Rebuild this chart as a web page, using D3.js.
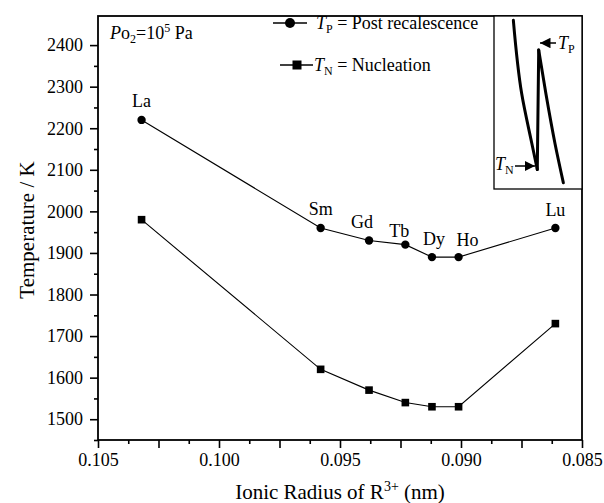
<!DOCTYPE html>
<html><head><meta charset="utf-8">
<script src="https://cdn.jsdelivr.net/npm/d3@7"></script>
<style>
html,body{margin:0;padding:0;background:#fff;}
svg text{font-family:"Liberation Serif","Times New Roman",serif;fill:#000;}
</style></head>
<body><svg id="c" width="604" height="503"></svg>
<script>
// ---- data ----
const elements = ["La","Sm","Gd","Tb","Dy","Ho","Lu"];
const ionicRadius = [0.1032, 0.0958, 0.0938, 0.0923, 0.0912, 0.0901, 0.0861];
const tPost = [2220, 1960, 1930, 1920, 1890, 1890, 1960];
const tNuc  = [1980, 1620, 1570, 1540, 1530, 1530, 1730];
const xTickLabels = [0.105, 0.100, 0.095, 0.090, 0.085];
const yTickLabels = [1500,1600,1700,1800,1900,2000,2100,2200,2300,2400];
// inset schematic (cooling curve sketch, unitless 0..100 coordinates)
const insetCoolA = [[22,2.5],[31.5,45],[43,73.7],[49.2,88.7]];
const insetSpike = [[49.2,88.7],[50.8,19.7]];
const insetCoolB = [[50.8,19.7],[59,45],[69.3,73.7],[78.8,96.4]];

// ---- layout ----
const M = {l:98, r:582, t:16, b:440};
const svg = d3.select("#c");
const x = d3.scaleLinear().domain([0.105, 0.085]).range([M.l, M.r]);
const y = d3.scaleLinear().domain([1450, 2470]).range([M.b, M.t]);
const FS = 18;
const FF = '"Liberation Serif", "Times New Roman", serif';

// ticks
const xMid = d3.range(0, 4).map(i => 0.1025 - i*0.005);
const xMinor = d3.range(0, 8).map(i => 0.10375 - i*0.0025);
const yMinor = d3.range(0, 10).map(i => 1450 + i*100);

function styleAxis(g){ g.attr("font-family", FF); g.select(".domain").remove(); g.selectAll("line").attr("stroke","#000").attr("stroke-width",1.6); }

svg.append("g").attr("transform",`translate(0,${M.b})`)
  .call(d3.axisBottom(x).tickValues(xTickLabels).tickSize(8).tickPadding(5).tickFormat(d3.format(".3f")))
  .call(styleAxis)
  .call(g=>g.selectAll("text").attr("font-size",FS));
svg.append("g").attr("transform",`translate(0,${M.b})`)
  .call(d3.axisBottom(x).tickValues(xMid).tickSize(8).tickFormat("")).call(styleAxis);
svg.append("g").attr("transform",`translate(0,${M.b})`)
  .call(d3.axisBottom(x).tickValues(xMinor).tickSize(4).tickFormat("")).call(styleAxis);

svg.append("g").attr("transform",`translate(${M.l},0)`)
  .call(d3.axisLeft(y).tickValues(yTickLabels).tickSize(8).tickPadding(7).tickFormat(d3.format("d")))
  .call(styleAxis)
  .call(g=>g.selectAll("text").attr("font-size",FS));
svg.append("g").attr("transform",`translate(${M.l},0)`)
  .call(d3.axisLeft(y).tickValues(yMinor).tickSize(4).tickFormat("")).call(styleAxis);

// frame
svg.append("rect").attr("x",M.l).attr("y",M.t).attr("width",M.r-M.l).attr("height",M.b-M.t)
  .attr("fill","none").attr("stroke","#000").attr("stroke-width",1.8);

// axis titles
svg.append("text").attr("x",(M.l+M.r)/2).attr("y",499).attr("text-anchor","middle")
  .attr("font-size",21).html('Ionic Radius of R<tspan dy="-8" font-size="14">3+</tspan><tspan dy="8"> (nm)</tspan>');
svg.append("text").attr("transform",`translate(34,${(M.t+M.b)/2+2}) rotate(-90)`).attr("text-anchor","middle")
  .attr("font-size",21).text("Temperature / K");

// data
const pts = elements.map((e,i)=>({e, r:ionicRadius[i], tp:tPost[i], tn:tNuc[i]}));
const line = key => d3.line().x(d=>x(d.r)).y(d=>y(d[key]));
svg.append("path").datum(pts).attr("d",line("tp")).attr("fill","none").attr("stroke","#000").attr("stroke-width",1.1);
svg.append("path").datum(pts).attr("d",line("tn")).attr("fill","none").attr("stroke","#000").attr("stroke-width",1.1);
svg.selectAll("circle.tp").data(pts).join("circle").attr("class","tp")
  .attr("cx",d=>x(d.r)).attr("cy",d=>y(d.tp)).attr("r",4.2);
const sq = 7.6;
svg.selectAll("rect.tn").data(pts).join("rect").attr("class","tn")
  .attr("x",d=>x(d.r)-sq/2).attr("y",d=>y(d.tn)-sq/2).attr("width",sq).attr("height",sq);

// element labels (label offsets relative to point)
const labelOff = {La:[0,-13], Sm:[0,-13], Gd:[-7,-12], Tb:[-6,-8], Dy:[2,-12], Ho:[9,-11], Lu:[0,-12]};
svg.selectAll("text.el").data(pts).join("text").attr("class","el")
  .attr("x",d=>x(d.r)+labelOff[d.e][0]).attr("y",d=>y(d.tp)+labelOff[d.e][1])
  .attr("text-anchor","middle").attr("font-size",FS).text(d=>d.e);

// Po2 annotation
svg.append("text").attr("x",110).attr("y",39).attr("font-size",FS)
  .html('<tspan font-style="italic">P</tspan>o<tspan dy="4" font-size="12">2</tspan><tspan dy="-4">=10</tspan><tspan dy="-7" font-size="12">5</tspan><tspan dy="7"> Pa</tspan>');

// legend
svg.append("line").attr("x1",273).attr("x2",307).attr("y1",23).attr("y2",23).attr("stroke","#000").attr("stroke-width",1.3);
svg.append("circle").attr("cx",290).attr("cy",23).attr("r",5);
svg.append("text").attr("x",316).attr("y",29).attr("font-size",FS)
  .html('<tspan font-style="italic">T</tspan><tspan dy="4" font-size="12">P</tspan><tspan dy="-4"> = Post recalescence</tspan>');
svg.append("line").attr("x1",280).attr("x2",313).attr("y1",65).attr("y2",65).attr("stroke","#000").attr("stroke-width",1.3);
svg.append("rect").attr("x",297-4.5).attr("y",65-4.5).attr("width",9).attr("height",9);
svg.append("text").attr("x",314).attr("y",71).attr("font-size",FS)
  .html('<tspan font-style="italic">T</tspan><tspan dy="4" font-size="12">N</tspan><tspan dy="-4"> = Nucleation</tspan>');

// inset
const inset = {x0:494, x1:582, y0:16, y1:189};
svg.append("rect").attr("x",inset.x0).attr("y",inset.y0).attr("width",inset.x1-inset.x0).attr("height",inset.y1-inset.y0)
  .attr("fill","#fff").attr("stroke","#000").attr("stroke-width",1.3);
const ix = d3.scaleLinear().domain([0,100]).range([inset.x0, inset.x1]);
const iy = d3.scaleLinear().domain([0,100]).range([inset.y0, inset.y1]);
const il = d3.line().x(d=>ix(d[0])).y(d=>iy(d[1])).curve(d3.curveMonotoneY);
[insetCoolA, insetSpike, insetCoolB].forEach(s=>{
  svg.append("path").attr("d", s.length>2 ? il(s) : d3.line().x(d=>ix(d[0])).y(d=>iy(d[1]))(s))
    .attr("fill","none").attr("stroke","#000").attr("stroke-width",3).attr("stroke-linecap","round");
});
const defs = svg.append("defs");
defs.append("marker").attr("id","ah").attr("viewBox","0 0 10 10").attr("refX",10).attr("refY",5)
  .attr("markerWidth",7).attr("markerHeight",7).attr("orient","auto-start-reverse")
  .append("path").attr("d","M0,0 L10,5 L0,10 z").attr("fill","#000");
svg.append("line").attr("x1",556).attr("y1",43).attr("x2",540).attr("y2",43).attr("stroke","#000").attr("stroke-width",1.5).attr("marker-end","url(#ah)");
svg.append("text").attr("x",558).attr("y",49).attr("font-size",FS)
  .html('<tspan font-style="italic">T</tspan><tspan dy="4" font-size="12">P</tspan>');
svg.append("line").attr("x1",515).attr("y1",166).attr("x2",535).attr("y2",166).attr("stroke","#000").attr("stroke-width",1.5).attr("marker-end","url(#ah)");
svg.append("text").attr("x",495).attr("y",170).attr("font-size",FS)
  .html('<tspan font-style="italic">T</tspan><tspan dy="4" font-size="12">N</tspan>');
</script></body></html>
